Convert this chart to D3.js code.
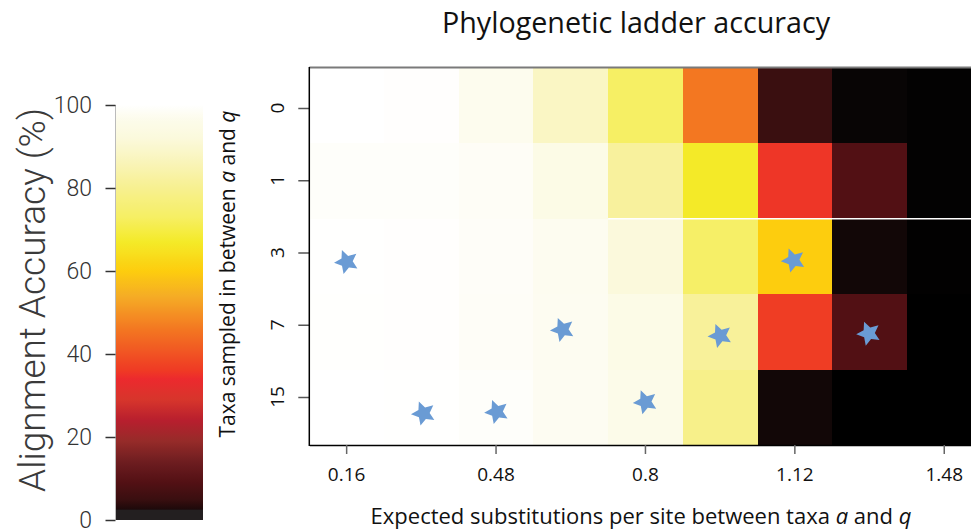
<!DOCTYPE html>
<html><head><meta charset="utf-8">
<script src="https://cdn.jsdelivr.net/npm/d3@7"></script>
<style>body{margin:0;background:#fff;} svg{display:block;}</style>
</head><body><svg id="c" width="971" height="532"></svg>
<script>
// ---------- data ----------
const xCategories = ["0.16","0.32","0.48","0.64","0.8","0.96","1.12","1.28","1.48"];
const xTickLabels = ["0.16","0.48","0.8","1.12","1.48"];
const rowLabels = ["0","1","3","7","15"];
const accRow0  = [100, 99.6, 97, 88, 73, 46, 5, 0.8, 0.3];
const accRow1  = [99.2, 99.1, 98.5, 95, 82, 67, 35.5, 9, 0.3];
const accRow3  = [99.8, 99.6, 98.8, 97.3, 92, 73.5, 60, 1.7, 0.2];
const accRow7  = [99.7, 99.6, 98.7, 97.5, 95.5, 81.5, 36.5, 9, 0];
const accRow15 = [100, 99.9, 99.1, 97.8, 96, 79, 1.7, 0, 0];
// stars: position in column / row index units
const starCol = [0.50, 1.53, 2.51, 3.39, 4.50, 5.50, 6.48, 7.49];
const starRow = [2.57, 4.58, 4.56, 3.47, 4.43, 3.55, 2.55, 3.52];
const legendTicks = [0, 20, 40, 60, 80, 100];

// ---------- setup ----------
const svg = d3.select("#c");
const accRows = [accRow0, accRow1, accRow3, accRow7, accRow15];
const cells = [];
rowLabels.forEach((r, i) => xCategories.forEach((c, j) => cells.push({r, c, v: accRows[i][j]})));

const colorDomain = [0, 1, 2, 5, 9, 14, 19, 24, 29, 34, 36, 46, 54, 60, 67, 73, 80, 86, 92, 96, 98.5, 100];
const colorRange = ["#000000","#0a0606","#160708","#3a0f10","#521014","#6e1d20","#962b29","#b81f2e","#d7352b","#ec2a2e","#ef3a24","#f37721","#f5ad25","#fdcd0e","#f4ea28","#f6ef64","#f7f090","#f9f4b8","#fbf9dc","#fcfbe9","#fefdf6","#ffffff"];
const color = d3.scaleLinear().domain(colorDomain).range(colorRange).clamp(true);

const X0 = 309.3, CW = 74.7, Y0 = 68, Y1 = 445;
const x = d3.scaleBand().domain(xCategories).range([X0, X0 + CW * xCategories.length]);
const y = d3.scaleBand().domain(rowLabels).range([Y0, Y1]);
const xi = d3.scaleLinear().domain([0, xCategories.length]).range(x.range());
const yi = d3.scaleLinear().domain([0, rowLabels.length]).range(y.range());
const yTick = d3.scalePoint().domain(rowLabels).range([108, 397]);

const fontMain = "'Open Sans', 'Noto Sans', sans-serif";

// ---------- heatmap ----------
svg.append("g").selectAll("rect").data(cells).join("rect")
  .attr("x", d => x(d.c)).attr("y", d => y(d.r))
  .attr("width", x.bandwidth() + 0.6).attr("height", y.bandwidth() + 0.6)
  .attr("fill", d => color(d.v)).attr("shape-rendering", "crispEdges");

// thin white seam between rows "1" and "3"
svg.append("line").attr("x1", x("0.8")).attr("x2", 971)
  .attr("y1", y("3")).attr("y2", y("3"))
  .attr("stroke", "#fff").attr("stroke-width", 1.5);

// top frame
svg.append("line").attr("x1", X0).attr("x2", 971).attr("y1", Y0 - 0.5).attr("y2", Y0 - 0.5)
  .attr("stroke", "#7a7a7a").attr("stroke-width", 2);

// stars (chunky five-point star)
const fatStar = {
  draw(ctx, size) {
    const R = Math.sqrt(size), r = R * 0.48;
    for (let k = 0; k < 10; k++) {
      const a = k * Math.PI / 5 - Math.PI / 2, rad = k % 2 ? r : R;
      const px = rad * Math.cos(a), py = rad * Math.sin(a);
      if (k === 0) ctx.moveTo(px, py); else ctx.lineTo(px, py);
    }
    ctx.closePath();
  }
};
const star = d3.symbol().type(fatStar).size(160);
svg.append("g").selectAll("path").data(starCol.map((c, i) => ({c, r: starRow[i]}))).join("path")
  .attr("d", star)
  .attr("transform", d => `translate(${xi(d.c)},${yi(d.r)}) rotate(-22)`)
  .attr("fill", "#6a9bd4");

// x axis
const xAxis = svg.append("g").attr("transform", `translate(0,${Y1})`)
  .call(d3.axisBottom(x).tickValues(xTickLabels).tickSize(9).tickSizeOuter(0).tickPadding(14));
xAxis.select(".domain").attr("stroke", "#000").attr("stroke-width", 1.5);
xAxis.selectAll(".tick line").attr("stroke", "#666").attr("stroke-width", 1.5);
xAxis.selectAll("text").attr("font-family", fontMain).attr("font-size", 19).attr("fill", "#111");

// y axis
const yAxis = svg.append("g").attr("transform", `translate(${X0},0)`)
  .call(d3.axisLeft(yTick).tickSize(11).tickFormat(""));
yAxis.select(".domain").remove();
yAxis.selectAll(".tick line").attr("stroke", "#555").attr("stroke-width", 1.5);
svg.append("line").attr("x1", X0).attr("x2", X0).attr("y1", Y0 - 1).attr("y2", Y1 + 1)
  .attr("stroke", "#000").attr("stroke-width", 1.5);
svg.append("g").selectAll("text").data(rowLabels).join("text")
  .attr("transform", d => `translate(284,${yTick(d)}) rotate(-90)`)
  .attr("text-anchor", "middle")
  .attr("font-family", fontMain).attr("font-size", 19).attr("fill", "#111")
  .text(d => d);

// titles
svg.append("text").attr("x", 636).attr("y", 33).attr("text-anchor", "middle")
  .attr("font-family", fontMain).attr("font-size", 28.7).attr("fill", "#111")
  .text("Phylogenetic ladder accuracy");

const xt = svg.append("text").attr("x", 641).attr("y", 524).attr("text-anchor", "middle")
  .attr("font-family", fontMain).attr("font-size", 22).attr("fill", "#111");
xt.append("tspan").text("Expected substitutions per site between taxa ");
xt.append("tspan").attr("font-style", "italic").text("a");
xt.append("tspan").text(" and ");
xt.append("tspan").attr("font-style", "italic").text("q");

const yt = svg.append("text").attr("transform", "translate(235,274) rotate(-90)").attr("text-anchor", "middle")
  .attr("font-family", fontMain).attr("font-size", 21).attr("fill", "#111");
yt.append("tspan").text("Taxa sampled in between ");
yt.append("tspan").attr("font-style", "italic").text("a");
yt.append("tspan").text(" and ");
yt.append("tspan").attr("font-style", "italic").text("q");

// ---------- colour bar ----------
const LB_X = 116, LB_W = 87;
const lScale = d3.scaleLinear().domain([0, 100]).range([520, 105]);
const defs = svg.append("defs");
const grad = defs.append("linearGradient").attr("id", "cb")
  .attr("x1", 0).attr("x2", 0).attr("y1", 1).attr("y2", 0);
d3.range(0, 100.01, 1).forEach(v => grad.append("stop").attr("offset", v / 100).attr("stop-color", color(v)));
svg.append("rect").attr("x", LB_X).attr("y", lScale(100)).attr("width", LB_W)
  .attr("height", lScale(0) - lScale(100)).attr("fill", "url(#cb)");
// dark grey base band of the printed colour bar
svg.append("rect").attr("x", LB_X).attr("y", lScale(2.5)).attr("width", LB_W)
  .attr("height", lScale(0) - lScale(2.5)).attr("fill", "#231f20");
svg.append("line").attr("x1", LB_X - 0.5).attr("x2", LB_X - 0.5).attr("y1", lScale(100)).attr("y2", lScale(0))
  .attr("stroke", "#bbb").attr("stroke-width", 1);
const lAxis = svg.append("g").attr("transform", `translate(${LB_X - 0.5},0)`)
  .call(d3.axisLeft(lScale).tickValues(legendTicks).tickSize(10).tickPadding(13.5));
lAxis.select(".domain").remove();
lAxis.selectAll(".tick line").attr("stroke", "#333").attr("stroke-width", 1.5);
lAxis.selectAll("text").attr("font-family", "Roboto, 'Liberation Sans', sans-serif")
  .attr("font-weight", 300).attr("font-size", 23).attr("fill", "#333");

svg.append("text").attr("transform", `translate(45,300) rotate(-90)`)
  .attr("text-anchor", "middle")
  .attr("font-family", "Roboto, 'Liberation Sans', sans-serif").attr("font-weight", 300)
  .attr("font-size", 37).attr("fill", "#3a3a3a")
  .text("Alignment Accuracy (%)");
</script></body></html>
